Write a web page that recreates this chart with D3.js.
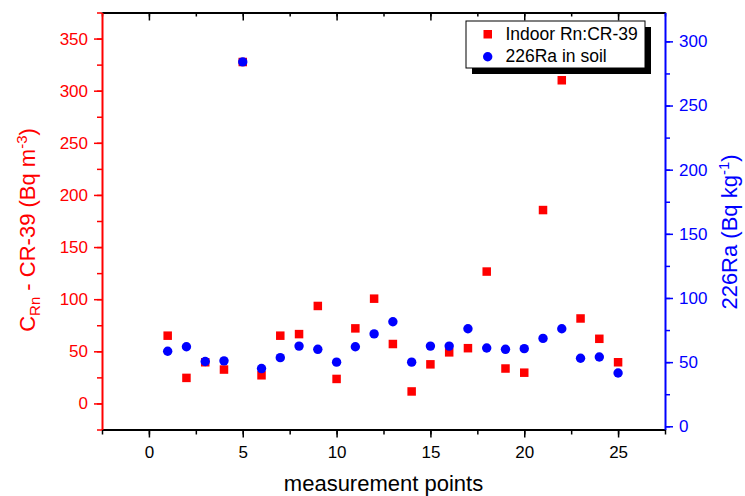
<!DOCTYPE html>
<html>
<head>
<meta charset="utf-8">
<script src="https://cdn.jsdelivr.net/npm/d3@7"></script>
<style>
  body { margin: 0; background: #fff; }
  text { font-family: "Liberation Sans", Arial, sans-serif; }
</style>
</head>
<body>
<svg id="chart" width="745" height="496"></svg>
<script>
// data
var points = d3.range(1, 26);
var indoorRn = [65, 24.5, 39.5, 32.5, 327.5, 27, 65, 66.5, 93.5, 23.5, 72, 100.5, 57,
  11.5, 37.5, 49, 53, 126.5, 33.5, 29.5, 185.5, 310, 81.5, 62, 39.5];
var soilRa = [58.5, 62, 50.5, 51, 284, 45, 53.5, 62.5, 60, 50, 62, 72, 81.5,
  50, 62.5, 62.5, 76, 61, 60, 60.5, 68.5, 76, 53, 54, 41.5];
var xTicks = [0, 5, 10, 15, 20, 25];
var leftTicks = [0, 50, 100, 150, 200, 250, 300, 350];
var rightTicks = [0, 50, 100, 150, 200, 250, 300];
var seriesNames = ["Indoor Rn:CR-39", "226Ra in soil"];

var red = "#ff0000", blue = "#0000ff";

var svg = d3.select("#chart");
svg.append("rect").attr("width", 745).attr("height", 496).attr("fill", "#fff");

// plot frame (named so they don't clash with window.top)
var pLeft = 102, pRight = 665, pTop = 12.5, pBottom = 429.5;

var x = d3.scaleLinear().domain([-2.5, 27.5]).range([pLeft, pRight]);
var yL = d3.scaleLinear().domain([-25, 375]).range([pBottom, pTop]);
var yR = d3.scaleLinear().domain([-2.5, 322.5]).range([pBottom, pTop]);

function styleAxis(g, color, size) {
  g.select(".domain").attr("stroke", color).attr("stroke-width", 2);
  g.selectAll(".tick line").attr("stroke", color).attr("stroke-width", 1.5);
  g.selectAll(".tick text").attr("fill", color)
    .style("font-size", size + "px");
}

function minor(color) {
  return function(g) {
    g.select(".domain").remove();
    g.selectAll("line").attr("stroke", color).attr("stroke-width", 1.5);
  };
}

// minor ticks
svg.append("g").attr("transform", "translate(0," + pBottom + ")")
  .call(d3.axisBottom(x).tickValues(d3.range(-2.5, 27.6, 2.5)).tickSize(5).tickFormat(""))
  .call(minor("#000"));
svg.append("g").attr("transform", "translate(0," + pTop + ")")
  .call(d3.axisBottom(x).tickValues(d3.range(-2.5, 27.6, 2.5)).tickSize(4).tickFormat(""))
  .call(minor("#000"));
svg.append("g").attr("transform", "translate(" + pLeft + ",0)")
  .call(d3.axisLeft(yL).tickValues(d3.range(-25, 376, 25)).tickSize(5).tickFormat(""))
  .call(minor(red));
svg.append("g").attr("transform", "translate(" + pRight + ",0)")
  .call(d3.axisRight(yR).tickValues(d3.range(0, 301, 25)).tickSize(5).tickFormat(""))
  .call(minor(blue));

// major axes
svg.append("g").attr("transform", "translate(0," + pTop + ")")
  .call(d3.axisBottom(x).tickValues(xTicks).tickSize(8).tickSizeOuter(0).tickFormat(""))
  .call(styleAxis, "#000", 17);
svg.append("g").attr("transform", "translate(0," + pBottom + ")")
  .call(d3.axisBottom(x).tickValues(xTicks).tickSize(8).tickSizeOuter(0).tickPadding(8))
  .call(styleAxis, "#000", 17);
svg.append("g").attr("transform", "translate(" + pLeft + ",0)")
  .call(d3.axisLeft(yL).tickValues(leftTicks).tickSize(8).tickSizeOuter(0).tickPadding(6))
  .call(styleAxis, red, 17);
svg.append("g").attr("transform", "translate(" + pRight + ",0)")
  .call(d3.axisRight(yR).tickValues(rightTicks).tickSize(8).tickSizeOuter(0).tickPadding(6))
  .call(styleAxis, blue, 17);

// markers
svg.append("g").selectAll("rect")
  .data(points)
  .enter().append("rect")
  .attr("x", function(d, i) { return x(d) - 4.25; })
  .attr("y", function(d, i) { return yL(indoorRn[i]) - 4.25; })
  .attr("width", 8.5).attr("height", 8.5)
  .attr("fill", red);

svg.append("g").selectAll("circle")
  .data(points)
  .enter().append("circle")
  .attr("cx", function(d) { return x(d); })
  .attr("cy", function(d, i) { return yR(soilRa[i]); })
  .attr("r", 4.7)
  .attr("fill", blue);

// axis titles
svg.append("text")
  .attr("x", (pLeft + pRight) / 2).attr("y", 491)
  .attr("text-anchor", "middle")
  .style("font-size", "22px")
  .text("measurement points");

var lt = svg.append("text")
  .attr("transform", "translate(35,230) rotate(-90)")
  .attr("text-anchor", "middle")
  .attr("fill", red)
  .style("font-size", "22px");
lt.append("tspan").text("C");
lt.append("tspan").attr("dy", 5).style("font-size", "15px").text("Rn");
lt.append("tspan").attr("dy", -5).text(" - CR-39 (Bq m");
lt.append("tspan").attr("dy", -8).style("font-size", "15px").text("-3");
lt.append("tspan").attr("dy", 8).text(")");

var rt = svg.append("text")
  .attr("transform", "translate(737,232) rotate(-90)")
  .attr("text-anchor", "middle")
  .attr("fill", blue)
  .style("font-size", "22px");
rt.append("tspan").text("226Ra (Bq kg");
rt.append("tspan").attr("dy", -8).style("font-size", "15px").text("-1");
rt.append("tspan").attr("dy", 8).text(")");

// legend
var lg = svg.append("g");
lg.append("rect").attr("x", 472).attr("y", 27).attr("width", 179).attr("height", 47).attr("fill", "#000");
lg.append("rect").attr("x", 466).attr("y", 21).attr("width", 179).attr("height", 47)
  .attr("fill", "#fff").attr("stroke", "#000").attr("stroke-width", 1);
lg.append("rect").attr("x", 483.5).attr("y", 30).attr("width", 8.5).attr("height", 8.5).attr("fill", red);
lg.append("circle").attr("cx", 487.7).attr("cy", 56.7).attr("r", 4.7).attr("fill", blue);
lg.append("text").attr("x", 505.5).attr("y", 40).style("font-size", "17.5px").text(seriesNames[0]);
lg.append("text").attr("x", 505.5).attr("y", 62).style("font-size", "17.5px").text(seriesNames[1]);
</script>
</body>
</html>
